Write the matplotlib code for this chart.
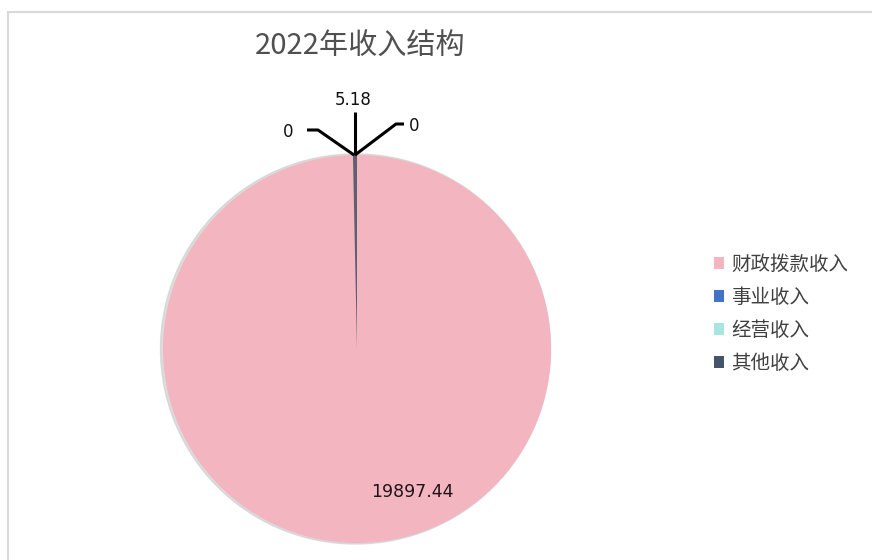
import numpy as np
import matplotlib.pyplot as plt
from matplotlib.patches import Rectangle, Circle

plt.rcParams['font.family'] = ['Noto Sans CJK SC', 'DejaVu Sans']

# ---------------------------------------------------------
# Data
# ---------------------------------------------------------
title = "2022年收入结构"
categories = ["财政拨款收入", "事业收入", "经营收入", "其他收入"]
values = [19897.44, 5.18, 0, 0]
value_labels = ["19897.44", "5.18", "0", "0"]
colors = ["#f3b5c0", "#4472c4", "#a8e6df", "#44546a"]

# ---------------------------------------------------------
# Figure
# ---------------------------------------------------------
W, H = 872, 560
fig = plt.figure(figsize=(W / 100, H / 100), dpi=100)

# light chart border (top / left)
fig.patches.append(Rectangle((8 / W, -0.01), 1.0, (H - 12) / H + 0.01,
                             transform=fig.transFigure, fill=False,
                             edgecolor="#d9d9d9", linewidth=1.5))

cx, cy, r = 357, 349, 194
box = 210
ax = fig.add_axes([(cx - box) / W, (H - cy - box) / H, 2 * box / W, 2 * box / H])

# faint shadow at the left rim
ax.add_patch(Circle((-1.5, 0), r + 1, color="#cfcfcf", alpha=0.7, zorder=0))

wedges, _ = ax.pie(values, radius=r, colors=colors, startangle=90,
                   counterclock=False, wedgeprops=dict(linewidth=0))
for w, v in zip(wedges, values):
    w.set_zorder(1)
    if 0 < v < values[0] * 0.01:
        # tiny slice: give it a minimum visible width like the original
        w.set_theta2(w.theta1 + 1.2)
        w.set_facecolor("#5b6170")
        w.set_zorder(2)

ax.set_xlim(-box, box)
ax.set_ylim(-box, box)
ax.set_aspect("equal")
ax.axis("off")

# ---------------------------------------------------------
# Data labels with leader lines
# ---------------------------------------------------------
top = (-2, r)
# small slices: (leader path offsets in px from top of pie, text pos)
leaders = {
    1: ([(0, 0), (0, 43)], (-2, 55)),
    2: ([(-1, 0), (-37, 25), (-48, 25)], (-67, 23)),
    3: ([(0, 0), (41, 31), (49, 31)], (59, 29)),
}
for i, (path, tpos) in leaders.items():
    xs = [top[0] + p[0] for p in path]
    ys = [top[1] + p[1] for p in path]
    ax.plot(xs, ys, color="black", linewidth=2.2, zorder=3, clip_on=False,
            solid_capstyle="butt")
    ax.text(top[0] + tpos[0], top[1] + tpos[1], value_labels[i],
            ha="center", va="center", fontsize=12, color="#111111",
            family="DejaVu Sans", clip_on=False)

ax.text(55, -143, value_labels[0], ha="center", va="center",
        fontsize=12.5, color="#1f1418", family="DejaVu Sans")

# ---------------------------------------------------------
# Title and legend
# ---------------------------------------------------------
fig.text(360 / W, 1 - 46 / H, title, ha="center", va="center",
         fontsize=21, color="#505050")

handles = [Rectangle((0, 0), 1, 1, facecolor=c, edgecolor="none") for c in colors]
fig.legend(handles, categories, loc="center left",
           bbox_to_anchor=(696 / W, 1 - 314 / H), frameon=False,
           fontsize=14, handlelength=0.55, handleheight=0.55,
           handletextpad=0.35, labelspacing=0.62, labelcolor="#404040")

fig.savefig("out.png", dpi=100, facecolor="white")
